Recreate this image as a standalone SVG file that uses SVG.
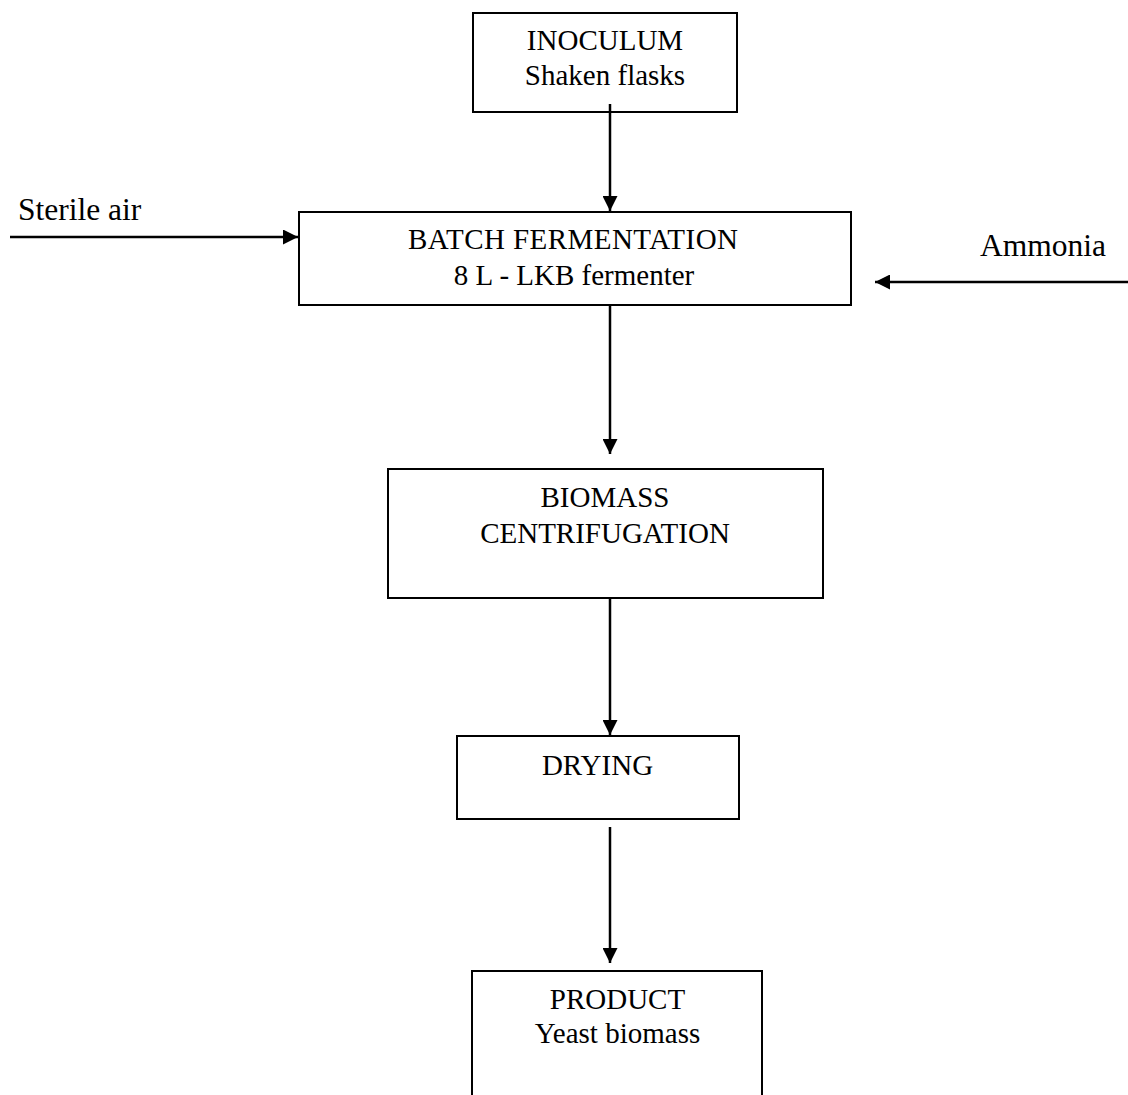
<svg xmlns="http://www.w3.org/2000/svg" width="1128" height="1095" viewBox="0 0 1128 1095">
<style>
.box{fill:#fff;stroke:#000;stroke-width:2}
.t{font-family:"Liberation Serif","Times New Roman",serif;font-size:29px;fill:#000}
.lbl{font-size:31.5px}
.c{text-anchor:middle}
.conn{stroke:#000;stroke-width:2.5;fill:none;marker-end:url(#ah)}
</style>
<defs>
<marker id="ah" viewBox="0 0 15 15" refX="15" refY="7.5" markerWidth="15" markerHeight="15" markerUnits="userSpaceOnUse" orient="auto">
<path d="M0,0 L15,7.5 L0,15 z" fill="#000"/>
</marker>
</defs>
<rect width="1128" height="1095" fill="#fff"/>
<g id="inoculum">
<rect class="box" x="473" y="13" width="264" height="99"/>
<text class="t c" x="605" y="50">INOCULUM</text>
<text class="t c" x="605" y="85">Shaken flasks</text>
</g>
<g id="batch">
<rect class="box" x="299" y="212" width="552" height="93"/>
<text class="t c" x="573" y="249" textLength="330">BATCH FERMENTATION</text>
<text class="t c" x="574" y="285">8 L - LKB fermenter</text>
</g>
<g id="biomass">
<rect class="box" x="388" y="469" width="435" height="129"/>
<text class="t c" x="605" y="507">BIOMASS</text>
<text class="t c" x="605" y="543">CENTRIFUGATION</text>
</g>
<g id="drying">
<rect class="box" x="457" y="736" width="282" height="83"/>
<text class="t c" x="597.5" y="775">DRYING</text>
</g>
<g id="product">
<rect class="box" x="472" y="971" width="290" height="140"/>
<text class="t c" x="617.5" y="1009">PRODUCT</text>
<text class="t c" x="617.5" y="1043">Yeast biomass</text>
</g>
<g id="sterile-air-label">
<text class="t lbl" x="18" y="220">Sterile air</text>
</g>
<g id="ammonia-label">
<text class="t lbl" x="980" y="256">Ammonia</text>
</g>
<g id="connectors">
<line class="conn" x1="610" y1="104" x2="610" y2="211"/>
<line class="conn" x1="10" y1="237" x2="298" y2="237"/>
<line class="conn" x1="1128" y1="282" x2="875" y2="282"/>
<line class="conn" x1="610" y1="305" x2="610" y2="454"/>
<line class="conn" x1="610" y1="598" x2="610" y2="735"/>
<line class="conn" x1="610" y1="827" x2="610" y2="963"/>
</g>
</svg>
